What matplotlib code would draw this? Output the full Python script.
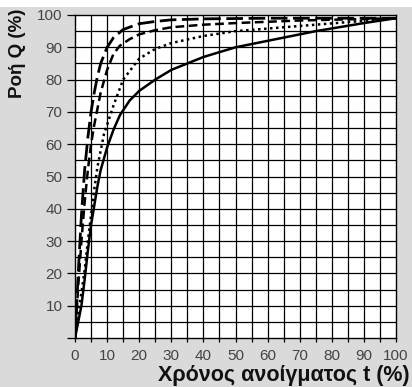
import numpy as np
import matplotlib
matplotlib.use("Agg")
import matplotlib.pyplot as plt
from matplotlib.patches import Rectangle

# --- data ---
t_long = [0, 1, 2, 3, 4, 5, 6, 7, 8, 10, 12, 15, 20, 25, 30, 40, 60, 100]
q_long = [0, 20, 38, 52, 62, 70, 76, 81, 85, 90, 93, 95.5, 97.3, 98, 98.5, 98.8, 99, 99]

t_med = [0, 1, 2, 3, 4, 5, 6, 7, 8, 10, 12, 14, 17, 20, 25, 30, 40, 50, 70, 100]
q_med = [0, 16, 30, 42, 52, 60, 66, 71, 76, 83, 88, 90.5, 92.5, 94, 95.3, 96.2, 97, 97.5, 98.3, 99]

t_dot = [0, 1, 2, 3, 4, 5, 6, 7, 8, 9, 10, 12, 15, 20, 25, 30, 40, 50, 75, 100]
q_dot = [0, 8, 14, 21, 30, 38, 46, 53, 58, 63, 66, 72, 80, 86.5, 89.5, 91.3, 93.5, 95, 97, 99]

t_sol = [0, 2, 3, 4, 5, 6, 7, 8, 10, 12, 14, 17, 20, 25, 30, 40, 50, 60, 75, 90, 100]
q_sol = [0, 10, 18, 27, 35, 41, 47, 52, 59, 64.5, 69, 73.5, 76.5, 80, 83, 87, 90, 92, 95, 97.5, 99]

x_ticks = list(range(0, 101, 10))
y_ticks = list(range(10, 101, 10))

plt.rcParams['font.family'] = ['Liberation Sans', 'DejaVu Sans']

fig = plt.figure(figsize=(4.12, 3.87), dpi=100)
fig.patch.set_facecolor("#dadada")
fig.add_artist(Rectangle((0, 1 - 7 / 387), 1, 7 / 387, transform=fig.transFigure,
                         facecolor="white", edgecolor="none"))

ax = fig.add_axes([75 / 412, 1 - 338 / 387, 321 / 412, 323 / 387])
ax.set_facecolor("white")

# grid every 5 units
for v in range(5, 100, 5):
    ax.axvline(v, color="black", lw=0.9, zorder=1)
    ax.axhline(v, color="black", lw=0.9, zorder=1)

ax.plot(t_sol, q_sol, color="black", lw=1.8, zorder=3)
ax.plot(t_dot, q_dot, color="black", lw=1.8, linestyle=(0, (1, 1.4)), zorder=3)
ax.plot(t_med, q_med, color="black", lw=1.8, linestyle=(0, (3.5, 1.8)), zorder=3)
ax.plot(t_long, q_long, color="black", lw=2.0, linestyle=(0, (6, 2)), zorder=3)

ax.set_xlim(0, 100)
ax.set_ylim(0, 100)
ax.set_xticks(x_ticks)
ax.set_xticks(range(5, 100, 10), minor=True)
ax.set_yticks([0] + y_ticks)
ax.set_yticklabels([""] + [str(v) for v in y_ticks])
ax.tick_params(axis="x", length=3, width=0.9, color="black", labelsize=11,
               labelcolor="#444444", pad=5)
ax.tick_params(axis="x", which="minor", length=3, width=0.9)
ax.tick_params(axis="y", length=6, width=0.9, color="black", labelsize=11,
               labelcolor="#444444", pad=3)
for s in ax.spines.values():
    s.set_color("black")
    s.set_linewidth(1.0)

fig.text(410 / 412, 1 - 376 / 387, "Χρόνος ανοίγματος t (%)", ha="right", va="center",
         fontsize=15.5, fontweight="bold", color="#111111")
fig.text(18 / 412, 1 - 53 / 387, "Ροή Q (%)", ha="center", va="center", rotation=90,
         fontsize=13.5, fontweight="bold", color="#111111")

fig.savefig("out.png", dpi=100, facecolor=fig.get_facecolor())
